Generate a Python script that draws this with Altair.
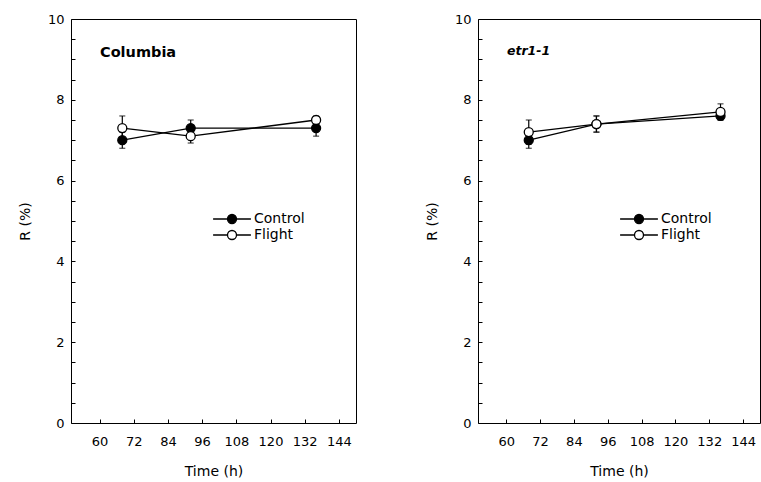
import altair as alt
import pandas as pd

# ---------------- data ----------------
times = [68, 92, 136]
series_names = ["Control", "Flight"]
panel_titles = ["Columbia", "etr1-1"]

columbia_control = [7.0, 7.3, 7.3]
columbia_control_err = [0.2, 0.2, 0.2]
columbia_flight = [7.3, 7.1, 7.5]
columbia_flight_err = [0.3, 0.17, 0.1]

etr_control = [7.0, 7.4, 7.6]
etr_control_err = [0.2, 0.2, 0.1]
etr_flight = [7.2, 7.4, 7.7]
etr_flight_err = [0.3, 0.2, 0.2]

x_tick_values = [60, 72, 84, 96, 108, 120, 132, 144]
y_label_values = [0, 2, 4, 6, 8, 10]
y_tick_values = [0, 0.5, 1, 1.5, 2, 2.5, 3, 3.5, 4, 4.5, 5, 5.5, 6, 6.5,
                 7, 7.5, 8, 8.5, 9, 9.5, 10]

# ---------------- layout / style ----------------
H = 404
W_LEFT = 285
W_RIGHT = 282
X_DOMAIN = [50, 150]
Y_DOMAIN = [0, 10]
FONT = "DejaVu Sans"

# legend symbol: a short line with a circle in the middle (unit = circle radius)
LEGEND_SYMBOL = ("M-4.2,0L-1,0M1,0L4.2,0"
                 "M1,0A1,1,0,1,1,-1,0A1,1,0,1,1,1,0Z")


def make_frame(control, control_err, flight, flight_err):
    rows = []
    for name, vals, errs in (("Control", control, control_err),
                             ("Flight", flight, flight_err)):
        for t, v, e in zip(times, vals, errs):
            rows.append({"Time": t, "R": v, "lo": v - e, "hi": v + e,
                         "Series": name})
    return pd.DataFrame(rows)


def panel(df, title, width, title_size, title_style, title_dy):
    xs = alt.Scale(domain=X_DOMAIN, nice=False, zero=False)
    ys = alt.Scale(domain=Y_DOMAIN, nice=False, zero=False)
    base = alt.Chart(df)

    lines = base.mark_line(color="black", strokeWidth=1.3).encode(
        x=alt.X("Time:Q", scale=xs,
                axis=alt.Axis(title="Time (h)", values=x_tick_values,
                              ticks=False, tickSize=0, domain=False, grid=False,
                              labelPadding=12, titlePadding=16)),
        y=alt.Y("R:Q", scale=ys,
                axis=alt.Axis(title="R (%)", values=y_label_values,
                              ticks=False, tickSize=0, domain=False, grid=False,
                              labelPadding=7, titlePadding=15)),
        detail="Series:N",
        order="Time:Q",
    )

    bars = base.mark_errorbar(ticks=True, size=6, thickness=1.2,
                              color="black").encode(
        x=alt.X("Time:Q", scale=xs, axis=None),
        y=alt.Y("lo:Q", scale=ys, axis=None),
        y2="hi:Q",
    )

    points = base.mark_point(shape="circle", filled=True, size=81,
                             stroke="black", strokeWidth=1.3,
                             opacity=1).encode(
        x=alt.X("Time:Q", scale=xs,
                axis=alt.Axis(orient="top", offset=-H, values=x_tick_values,
                              tickSize=4, tickColor="black", tickWidth=1,
                              labels=False, domain=False, grid=False,
                              title=None)),
        y=alt.Y("R:Q", scale=ys,
                axis=alt.Axis(orient="right", offset=-width,
                              values=y_tick_values, tickSize=4,
                              tickColor="black", tickWidth=1,
                              labels=False, domain=False, grid=False,
                              title=None)),
        fill=alt.Fill("Series:N",
                      scale=alt.Scale(domain=series_names,
                                      range=["black", "white"]),
                      legend=alt.Legend(
                          title=None, orient="none",
                          legendX=154, legendY=193,
                          symbolType=LEGEND_SYMBOL, symbolSize=81,
                          symbolStrokeColor="black", symbolStrokeWidth=1.3,
                          symbolOpacity=1, labelOffset=15,
                          labelFont=FONT, labelFontSize=14,
                          labelColor="black", rowPadding=0, padding=0,
                          offset=0)),
    )

    return alt.layer(lines, bars, points).properties(
        width=width, height=H,
        title=alt.TitleParams(
            text=title, anchor="start", frame="group", orient="top",
            offset=0, dx=29, dy=title_dy, baseline="alphabetic",
            font=FONT, fontSize=title_size, fontWeight="bold",
            fontStyle=title_style, color="black"),
    ).resolve_axis(x="independent", y="independent")


left = panel(make_frame(columbia_control, columbia_control_err,
                        columbia_flight, columbia_flight_err),
             panel_titles[0], W_LEFT, 14.5, "normal", 58)
right = panel(make_frame(etr_control, etr_control_err,
                         etr_flight, etr_flight_err),
              panel_titles[1], W_RIGHT, 12.5, "italic", 54)

chart = alt.hconcat(left, right, spacing=122, bounds="flush").resolve_scale(
    fill="independent"
).resolve_legend(
    fill="independent"
).properties(
    padding={"left": 17, "top": 12, "right": 0, "bottom": 5},
    background="white",
).configure_view(
    stroke="black", strokeWidth=1
).configure_axis(
    labelFont=FONT, labelFontSize=13, labelColor="black",
    titleFont=FONT, titleFontSize=14, titleFontWeight="normal",
    titleColor="black",
)

chart.save("out.html", embed_options={"renderer": "svg", "actions": False})
